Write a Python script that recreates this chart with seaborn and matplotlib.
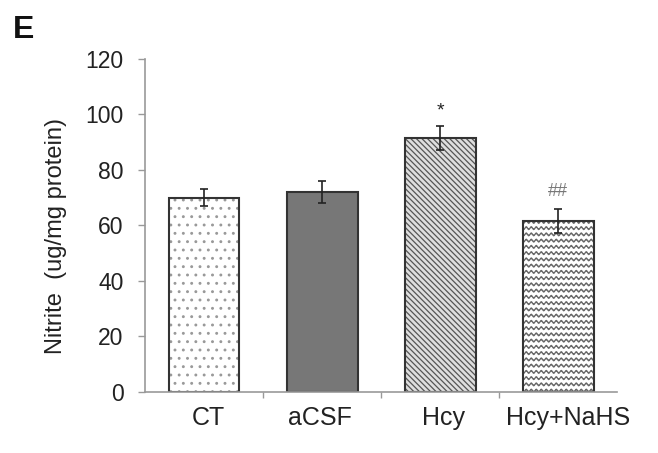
import matplotlib
matplotlib.use("Agg")
import matplotlib.pyplot as plt
import matplotlib.transforms as mtransforms
from matplotlib import hatch as mhatch
from matplotlib.path import Path
import seaborn as sns
import pandas as pd
import numpy as np

categories = ["CT", "aCSF", "Hcy", "Hcy+NaHS"]
values = [70.0, 72.0, 91.5, 61.5]
errors = [3.0, 4.0, 4.3, 4.3]
annotations = ["", "", "*", "##"]
y_ticks = [0, 20, 40, 60, 80, 100, 120]


# custom wavy hatch (uses the 'O' symbol)
class WavyHatch(mhatch.HatchPatternBase):
    def __init__(self, hatch, density):
        n = hatch.count('O')
        self.num_rows = 16 if n else 0
        self.periods = 20
        self.pts = 161
        self.num_lines = self.num_rows
        self.num_vertices = self.num_rows * self.pts

    def set_vertices_and_codes(self, vertices, codes):
        x = np.linspace(0, 1, self.pts)
        for i in range(self.num_rows):
            y0 = (i + 0.5) / self.num_rows
            y = y0 + 0.014 * np.sin(2 * np.pi * self.periods * x)
            sl = slice(i * self.pts, (i + 1) * self.pts)
            vertices[sl, 0] = x
            vertices[sl, 1] = y
            codes[sl] = Path.LINETO
            codes[i * self.pts] = Path.MOVETO


mhatch._hatch_types = [t for t in mhatch._hatch_types
                       if t is not mhatch.LargeCircles] + [WavyHatch]

sns.set_theme(style="white")
plt.rcParams['font.family'] = ['Liberation Sans', 'DejaVu Sans']
plt.rcParams['hatch.linewidth'] = 0.9

df = pd.DataFrame({"group": categories, "value": values})

fig = plt.figure(figsize=(6.58, 4.53), dpi=100)
ax = fig.add_axes([0.2204, 0.1347, 0.7176, 0.7351])

facecolors = ["white", "#777777", "#dedede", "white"]
hatches = ["..", "", "\\\\\\\\\\\\", "O"]
hatchcolors = ["#999999", "#777777", "#555555", "#666666"]

sns.barplot(data=df, x="group", y="value", hue="group", order=categories,
            palette=facecolors, errorbar=None, width=0.6, legend=False,
            edgecolor="#333333", linewidth=1.5, ax=ax)

for p, h, hc, fc in zip(ax.patches, hatches, hatchcolors, facecolors):
    p.set_hatch(h)
    p.set_facecolor(fc)
    p._hatch_color = matplotlib.colors.to_rgba(hc)

centers = [p.get_x() + p.get_width() / 2 for p in ax.patches]
heights = [p.get_height() for p in ax.patches]
ax.errorbar(centers, heights, yerr=errors, fmt="none", ecolor="#222222",
            elinewidth=1.2, capsize=3, capthick=1.2, zorder=5)

for c, h, e, a in zip(centers, heights, errors, annotations):
    if a == "*":
        ax.text(c, h + e + 5.5, a, ha="center", va="center", fontsize=14,
                color="#222222")
    elif a:
        ax.text(c, h + e + 6.5, a, ha="center", va="center", fontsize=13,
                color="#777777")

ax.set_ylim(0, 120)
ax.set_xlim(-0.5, 3.5)
ax.set_yticks(y_ticks)
ax.set_yticklabels([str(t) for t in y_ticks], fontsize=16.5, color="#222222")
ax.set_xticks([0, 1, 2, 3])
ax.set_xticklabels(categories, fontsize=18, color="#222222")
ax.tick_params(axis="x", length=0, pad=10)
ax.tick_params(axis="y", direction="out", length=5, width=1, color="#999999",
               pad=10.5, left=True)
ax.set_xticks([0.5, 1.5, 2.5], minor=True)
ax.tick_params(axis="x", which="minor", direction="out", length=4, width=1,
               color="#999999", bottom=True)
# small horizontal nudges of the category labels, as in the reference
nudges_px = [4, -2, 3, 10]
for lbl, dx in zip(ax.get_xticklabels(), nudges_px):
    lbl.set_transform(lbl.get_transform() +
                      mtransforms.ScaledTranslation(dx / 100, 0, fig.dpi_scale_trans))
ax.set_xlabel("")
ax.set_ylabel("Nitrite  (ug/mg protein)", fontsize=17, color="#222222")
ax.yaxis.set_label_coords(-0.165, 0.468)

for s in ["top", "right"]:
    ax.spines[s].set_visible(False)
for s in ["left", "bottom"]:
    ax.spines[s].set_color("#999999")
    ax.spines[s].set_linewidth(1.2)

fig.text(13 / 658, 1 - 15 / 453, "E", fontsize=23, fontweight="bold",
         va="top", ha="left", color="#111111")

fig.savefig("out.png", dpi=100)
